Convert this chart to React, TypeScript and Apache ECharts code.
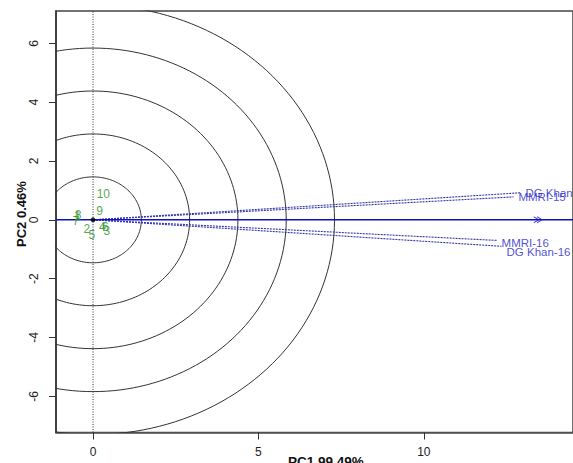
import React, { useEffect, useRef } from "react";
import * as echarts from "echarts";

// ---- data ----
const genotypeNames = ["1", "2", "3", "4", "5", "6", "7", "8", "9", "10"];
const genotypeX = [-0.47, -0.19, 0.42, 0.28, -0.04, 0.37, -0.52, -0.45, 0.2, 0.31];
const genotypeY = [0.12, -0.31, -0.37, -0.26, -0.51, -0.24, -0.03, 0.17, 0.29, 0.88];

const envNames = ["DG Khan-15", "MMRI-15", "MMRI-16", "DG Khan-16"];
const envX = [12.92, 12.71, 12.2, 12.35];
const envY = [0.92, 0.78, -0.7, -0.9];

const averageEnv = [13.5, 0];
const circleRadii = [1.46, 2.92, 4.38, 5.84, 7.3];

const xTicks = [0, 5, 10];
const yTicks = [-6, -4, -2, 0, 2, 4, 6];

const FONT = "Liberation Sans, Arial, sans-serif";
const GREEN = "#1f8f1f";
const BLUE = "#2323c8";

function circlePoints(r: number): number[][] {
  const pts: number[][] = [];
  for (let a = 0; a <= 360; a += 2) {
    const t = (a * Math.PI) / 180;
    pts.push([r * Math.cos(t), r * Math.sin(t)]);
  }
  return pts;
}

export default function App() {
  const ref = useRef<HTMLDivElement>(null);
  useEffect(() => {
    document.body.style.margin = "0";
    const chart = echarts.init(ref.current!, null, { renderer: "svg" });

    const circleSeries = circleRadii.map((r) => ({
      type: "line",
      data: circlePoints(r),
      symbol: "none",
      silent: true,
      lineStyle: { color: "#333", width: 1 },
      clip: true,
      z: 1,
    }));

    const envLines = envNames.map((n, i) => ({
      type: "line",
      data: [
        [0, 0],
        [envX[i], envY[i]],
      ],
      symbol: "none",
      lineStyle: { color: "#3535a8", width: 1.1, type: [2, 1] },
      z: 2,
    }));

    const option: any = {
      animation: false,
      grid: {
        left: 56,
        top: 11,
        right: -5,
        bottom: 30.5,
        show: true,
        borderColor: "#444",
        borderWidth: 1.5,
      },
      xAxis: {
        type: "value",
        min: -1.12,
        max: 14.51,
        axisLine: { show: true, onZero: false, lineStyle: { color: "#555", width: 1.5 } },
        axisTick: { show: true, customValues: xTicks, length: 7, lineStyle: { color: "#333" } },
        axisLabel: {
          show: true,
          customValues: xTicks,
          margin: 13,
          fontSize: 12,
          color: "#222",
          fontFamily: FONT,
        },
        splitLine: { show: false },
      },
      yAxis: {
        type: "value",
        min: -7.23,
        max: 7.1,
        axisLine: { show: true, onZero: false, lineStyle: { color: "#333", width: 1.5 } },
        axisTick: { show: true, customValues: yTicks, length: 7, lineStyle: { color: "#333" } },
        axisLabel: {
          show: true,
          customValues: yTicks,
          rotate: 90,
          margin: 16,
          fontSize: 12,
          color: "#222",
          fontFamily: FONT,
        },
        splitLine: { show: false },
      },
      series: [
        ...circleSeries,
        {
          type: "line",
          data: [
            [0, -7.23],
            [0, 7.1],
          ],
          symbol: "none",
          lineStyle: { color: "#333", width: 1, type: [1, 1.5] },
          z: 2,
        },
        ...envLines,
        {
          type: "line",
          data: [
            [-1.12, 0],
            [14.51, 0],
          ],
          symbol: "none",
          lineStyle: { color: "#1010c0", width: 1.5 },
          z: 3,
        },
        {
          type: "scatter",
          data: [[0, 0]],
          symbol: "circle",
          symbolSize: 5,
          itemStyle: { color: "#000" },
          z: 5,
        },
        {
          type: "scatter",
          data: [averageEnv, [averageEnv[0] - 0.1, averageEnv[1]]],
          symbol: "path://M0,0L8,5L0,10",
          symbolSize: [5, 6],
          itemStyle: { color: "none", borderColor: BLUE, borderWidth: 1 },
          z: 5,
        },
        {
          type: "scatter",
          data: envNames.map((n, i) => ({ name: n, value: [envX[i], envY[i]] })),
          symbolSize: 0,
          label: {
            show: true,
            position: "right",
            distance: 0,
            formatter: (p: any) => p.name,
            color: BLUE,
            fontSize: 11.5,
            fontFamily: FONT,
          },
          labelLayout: (p: any) => {
            const off = [0, 0, 3, 6][p.dataIndex];
            return { dx: 5, dy: off };
          },
          z: 6,
        },
        {
          type: "scatter",
          data: genotypeNames.map((n, i) => ({ name: n, value: [genotypeX[i], genotypeY[i]] })),
          symbolSize: 0,
          label: {
            show: true,
            position: "inside",
            formatter: (p: any) => p.name,
            color: GREEN,
            fontSize: 12,
            fontFamily: FONT,
          },
          z: 6,
        },
      ],
      graphic: [
        {
          type: "text",
          left: 288,
          top: 454,
          style: {
            text: "PC1 99.49%",
            fontSize: 13.5,
            fontWeight: "bold",
            fontFamily: FONT,
            fill: "#111",
          },
        },
        {
          type: "text",
          x: 15,
          y: 247,
          rotation: Math.PI / 2,
          style: {
            text: "PC2 0.46%",
            fontSize: 13,
            fontWeight: "bold",
            fontFamily: FONT,
            fill: "#111",
          },
        },
      ],
    };
    chart.setOption(option);
    return () => chart.dispose();
  }, []);
  return (
    <div
      ref={ref}
      style={{ position: "absolute", left: 0, top: 0, width: 573, height: 463 }}
    />
  );
}
